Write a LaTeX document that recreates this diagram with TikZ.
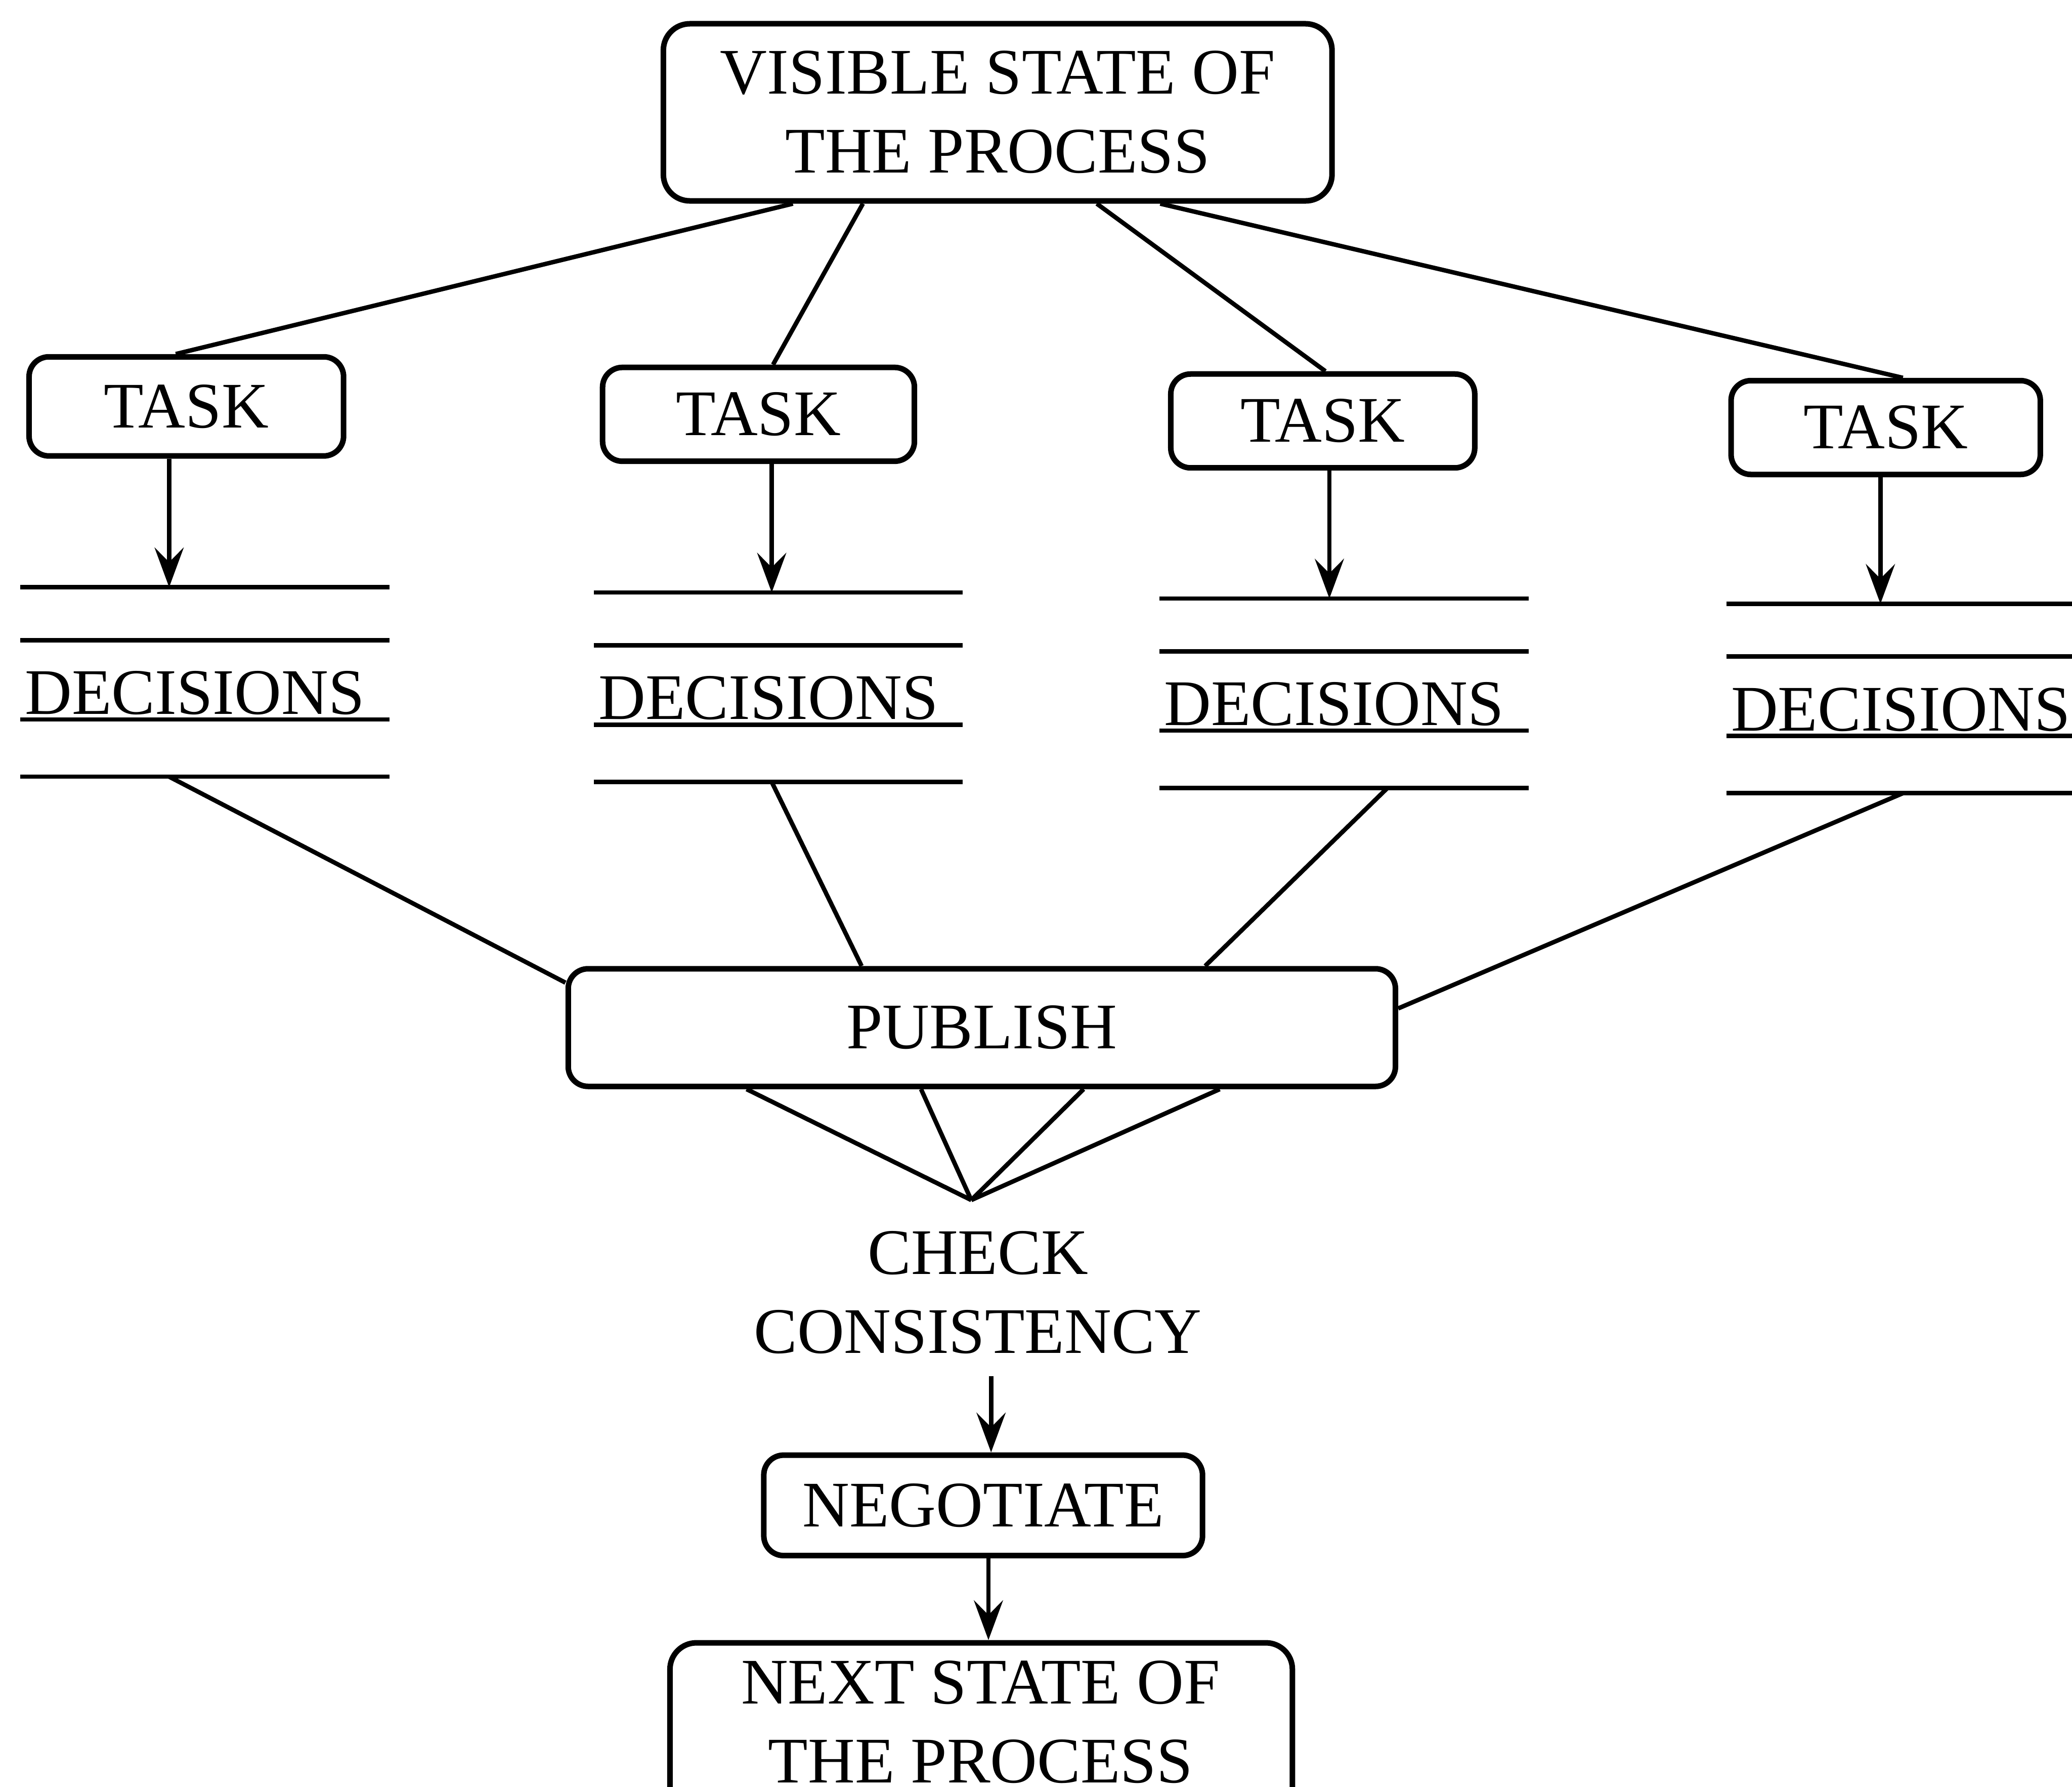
\documentclass[tikz,border=0pt]{standalone}
\usepackage{fontspec}
\setmainfont{Liberation Serif}
\usetikzlibrary{arrows.meta}

\begin{document}
\begin{tikzpicture}[
        font=\fontsize{14pt}{17pt}\selectfont,
        line width=0.95pt,
        box/.style={draw, rounded corners=1.5mm, line width=1.2pt, align=center, inner sep=0pt},
        store/.style={inner sep=0pt, minimum width=2.76cm, minimum height=1.4cm},
        tip/.style={-{Stealth[length=3mm,width=2.2mm,inset=1.1mm]}}
    ]
        \useasboundingbox (0,0) rectangle (15.68,-13.52);

        \node[box, minimum width=5.06cm, minimum height=1.34cm, rounded corners=2mm] (vis) at (7.55,-0.85) {VISIBLE STATE OF\\THE PROCESS};

        \node[box, minimum width=2.38cm, minimum height=0.75cm] (task1) at (1.41,-3.075) {TASK};
        \node[box, minimum width=2.36cm, minimum height=0.71cm] (task2) at (5.74,-3.135) {TASK};
        \node[box, minimum width=2.30cm, minimum height=0.71cm] (task3) at (10.01,-3.185) {TASK};
        \node[box, minimum width=2.34cm, minimum height=0.71cm] (task4) at (14.27,-3.235) {TASK};

        \node[store] (dec1) at (1.55,-5.16) {};
        \node[store] (dec2) at (5.89,-5.20) {};
        \node[store] (dec3) at (10.17,-5.245) {};
        \node[store] (dec4) at (14.46,-5.285) {};

        \foreach \d in {dec1,dec2,dec3,dec4} {
            \draw (\d.north west) -- (\d.north east);
            \draw ([yshift=-4mm]\d.north west) -- ([yshift=-4mm]\d.north east);
            \draw ([yshift=-10mm]\d.north west) -- ([yshift=-10mm]\d.north east);
            \draw (\d.south west) -- (\d.south east);
            \node[anchor=base west, inner sep=0pt] (\d txt) at ([xshift=0.2mm,yshift=-9.6mm]\d.north west) {DECISIONS};
        }

        \node[box, minimum width=6.26cm, minimum height=0.89cm] (pub) at (7.43,-7.775) {PUBLISH};
        \coordinate (apex) at (7.35,-9.08);
        \node[align=center, inner sep=0pt] (check) at (7.40,-9.78) {CHECK\\CONSISTENCY};
        \node[box, minimum width=3.32cm, minimum height=0.76cm] (neg) at (7.44,-11.39) {NEGOTIATE};
        \node[box, minimum width=4.71cm, minimum height=1.34cm, rounded corners=2mm] (next) at (7.425,-13.10) {};
        \node[align=center, inner sep=0pt] (nexttxt) at (7.42,-13.03) {NEXT STATE OF\\THE PROCESS};

        \draw ([xshift=-15.5mm]vis.south) -- ([xshift=-0.8mm]task1.north);
        \draw ([xshift=-10.2mm]vis.south) -- ([xshift=1.1mm]task2.north);
        \draw ([xshift=7.5mm]vis.south) -- ([xshift=0.2mm]task3.north);
        \draw ([xshift=12.3mm]vis.south) -- ([xshift=1.3mm]task4.north);

        \draw[tip] ([xshift=-1.3mm]task1.south) -- ([xshift=-1.3mm]task1.south |- dec1.north);
        \draw[tip] ([xshift=1mm]task2.south) -- ([xshift=1mm]task2.south |- dec2.north);
        \draw[tip] ([xshift=0.5mm]task3.south) -- ([xshift=0.5mm]task3.south |- dec3.north);
        \draw[tip] ([xshift=-0.4mm]task4.south) -- ([xshift=-0.4mm]task4.south |- dec4.north);

        \draw ([xshift=-2.7mm]dec1.south) -- ([yshift=3.4mm]pub.west);
        \draw ([xshift=-0.5mm]dec2.south) -- ([xshift=-9.1mm]pub.north);
        \draw ([xshift=3.3mm]dec3.south) -- ([xshift=16.9mm]pub.north);
        \draw ([xshift=-0.6mm]dec4.south) -- ([yshift=1.45mm]pub.east);

        \foreach \dx in {-17.8,-4.6,7.7,18.0}
            \draw ([xshift=\dx mm]pub.south) -- (apex);

        \draw[tip] ([xshift=1mm,yshift=-1.5mm]check.south) -- ([xshift=1mm]check.south |- neg.north);
        \draw[tip] ([xshift=0.4mm]neg.south) -- ([xshift=0.4mm]neg.south |- next.north);
    \end{tikzpicture}
\end{document}
